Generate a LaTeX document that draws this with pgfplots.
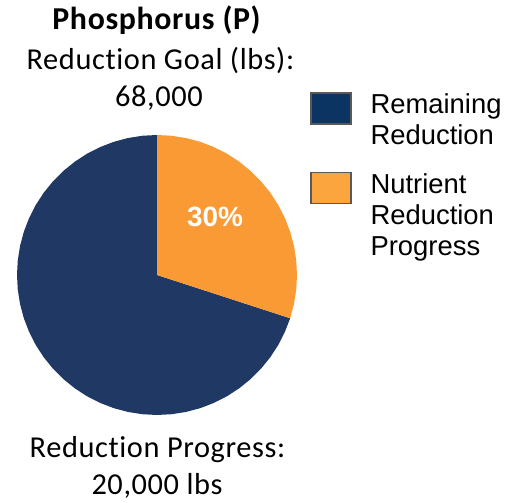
\documentclass[border=0pt]{standalone}
\usepackage{pgfplots}
\pgfplotsset{compat=1.18}
\usepackage{fontspec}
\setmainfont{Carlito}[Ligatures={NoCommon}, LetterSpace=2]
\newfontfamily\arial{Liberation Sans}
\definecolor{pieblue}{HTML}{1F3864}
\definecolor{pieorange}{HTML}{F99A35}
\definecolor{legblue}{HTML}{0B3462}
\definecolor{legorange}{HTML}{FBA53F}
\definecolor{legedge}{HTML}{595959}
\begin{document}
\begin{tikzpicture}[x=1bp,y=1bp]
\useasboundingbox (0,0) rectangle (518,503);
\begin{axis}[
  at={(157bp,228bp)}, anchor=center,
  scale only axis, width=280bp, height=280bp,
  xmin=-1, xmax=1, ymin=-1, ymax=1,
  hide axis, clip=false,
  legend image code/.code={\draw[#1, line width=1.5bp] (0bp,-10bp) rectangle (40bp,21bp);},
  legend cell align=left,
  legend style={at={(1.046,1.154)}, anchor=north west, draw=none, fill=none,
    inner sep=0pt, column sep=19bp, row sep=47bp,
    font=\arial\fontsize{27.5}{31}\selectfont,
    nodes={inner sep=0pt, anchor=base west}},
]
% Remaining reduction: 70% of the pie (from -18 deg clockwise to -270 deg)
\addplot[data cs=polar, fill=pieblue, draw=none, forget plot] coordinates {
 (0,0) (-18,1) (-24,1) (-30,1) (-36,1) (-42,1) (-48,1) (-54,1) (-60,1) (-66,1)
 (-72,1) (-78,1) (-84,1) (-90,1) (-96,1) (-102,1) (-108,1) (-114,1) (-120,1)
 (-126,1) (-132,1) (-138,1) (-144,1) (-150,1) (-156,1) (-162,1) (-168,1)
 (-174,1) (-180,1) (-186,1) (-192,1) (-198,1) (-204,1) (-210,1) (-216,1)
 (-222,1) (-228,1) (-234,1) (-240,1) (-246,1) (-252,1) (-258,1) (-264,1)
 (-270,1) (0,0)};
% Nutrient reduction progress: 30% of the pie (from 90 deg clockwise to -18 deg)
\addplot[data cs=polar, fill=pieorange, draw=none, forget plot] coordinates {
 (0,0) (90,1) (84,1) (78,1) (72,1) (66,1) (60,1) (54,1) (48,1) (42,1) (36,1)
 (30,1) (24,1) (18,1) (12,1) (6,1) (0,1) (-6,1) (-12,1) (-18,1) (0,0)};
\node[text=white, font=\arial\bfseries\fontsize{28}{28}\selectfont] at (axis cs:0.414,0.414) {30\%};
\addlegendimage{fill=legblue, draw=legedge}
\addlegendentry{\vtop{\hbox{Remaining}\hbox{Reduction}}}
\addlegendimage{fill=legorange, draw=legedge}
\addlegendentry{\vtop{\hbox{Nutrient}\hbox{Reduction}\hbox{Progress}}}
\end{axis}
\node[anchor=base, font=\bfseries\fontsize{32}{36}\selectfont] at (156.5,473) {Phosphorus (P)};
\node[anchor=base, font=\fontsize{30.5}{36}\selectfont] at (160.5,433) {Reduction Goal (lbs):};
\node[anchor=base, font=\fontsize{30.5}{36}\selectfont] at (159,396) {68,000};
\node[anchor=base, font=\fontsize{30.5}{36}\selectfont] at (157.5,45) {Reduction Progress:};
\node[anchor=base, font=\fontsize{30.5}{36}\selectfont] at (157,8) {20,000 lbs};
\end{tikzpicture}
\end{document}
